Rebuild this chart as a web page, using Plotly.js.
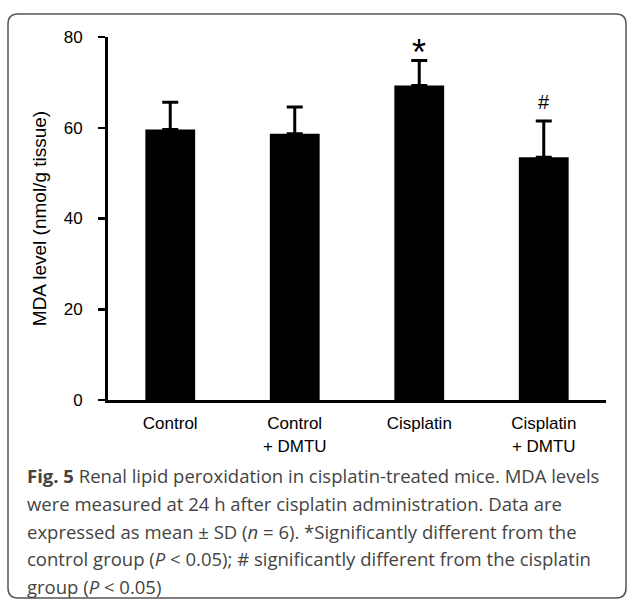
<!DOCTYPE html>
<html>
<head>
<meta charset="utf-8">
<script src="https://cdn.plot.ly/plotly-3.0.1.min.js"></script>
<style>
html, body { margin: 0; padding: 0; background: #ffffff; }
#chart { width: 629px; height: 601px; }
</style>
</head>
<body>
<div id="chart"></div>
<script>
// ---- data ----
const categories = ["Control", "Control<br>+ DMTU", "Cisplatin", "Cisplatin<br>+ DMTU"];
const mdaMean = [59.6, 58.7, 69.3, 53.5];
const mdaSD = [6.0, 5.9, 5.5, 8.0];
const sigMarks = ["", "", "*", "#"];
const yTicks = [0, 20, 40, 60, 80];
const captionLines = [
  "<b>Fig. 5</b> Renal lipid peroxidation in cisplatin-treated mice. MDA levels",
  "were measured at 24 h after cisplatin administration. Data are",
  "expressed as mean ± SD (<i>n</i> = 6). *Significantly different from the",
  "control group (<i>P</i> &lt; 0.05); # significantly different from the cisplatin",
  "group (<i>P</i> &lt; 0.05)"
];

// ---- layout geometry (pixels) ----
const W = 629, H = 601;
const mL = 108, mR = 23, mT = 37, mB = 201;
const pw = W - mL - mR, ph = H - mT - mB;
const px2x = p => (p - mL) / pw;
const py2y = p => (H - mB - p) / ph;

const trace = {
  type: "bar",
  x: categories,
  y: mdaMean,
  width: 0.4,
  marker: { color: "#000000", line: { width: 0 } },
  error_y: {
    type: "data",
    symmetric: false,
    array: mdaSD,
    arrayminus: mdaSD.map(() => 0),
    color: "#000000",
    thickness: 3,
    width: 8
  },
  hoverinfo: "skip"
};

const annotations = [];
categories.forEach((c, i) => {
  if (sigMarks[i]) {
    const star = sigMarks[i] === "*";
    annotations.push({
      x: c, y: mdaMean[i] + mdaSD[i], xref: "x", yref: "y",
      text: sigMarks[i], showarrow: false, yanchor: "middle",
      yshift: star ? 8 : 19,
      font: { family: "Liberation Sans, Arial, sans-serif", size: star ? 36 : 20, color: "#000" }
    });
  }
});
const captionY = [476, 503.5, 531, 558.5, 586];
captionLines.forEach((t, i) => {
  annotations.push({
    x: px2x(25), y: py2y(captionY[i]), xref: "paper", yref: "paper",
    xanchor: "left", yanchor: "middle", align: "left",
    text: t, showarrow: false,
    font: { family: "Open Sans, sans-serif", size: 18.5, color: "#444444" }
  });
});

// rounded frame
const fx0 = px2x(8), fx1 = px2x(626), fy0 = py2y(598), fy1 = py2y(14);
const rx = 10 / pw, ry = 10 / ph;
const framePath =
  `M ${fx0 + rx},${fy1} L ${fx1 - rx},${fy1} Q ${fx1},${fy1} ${fx1},${fy1 - ry} ` +
  `L ${fx1},${fy0 + ry} Q ${fx1},${fy0} ${fx1 - rx},${fy0} ` +
  `L ${fx0 + rx},${fy0} Q ${fx0},${fy0} ${fx0},${fy0 + ry} ` +
  `L ${fx0},${fy1 - ry} Q ${fx0},${fy1} ${fx0 + rx},${fy1} Z`;

const layout = {
  width: W, height: H,
  margin: { l: mL, r: mR, t: mT, b: mB, pad: 0 },
  paper_bgcolor: "#ffffff",
  plot_bgcolor: "#ffffff",
  showlegend: false,
  font: { family: "Liberation Sans, Arial, sans-serif", color: "#000" },
  xaxis: {
    type: "category",
    range: [-0.5, 3.5],
    showline: true, linecolor: "#000", linewidth: 3,
    ticks: "", showgrid: false, zeroline: false,
    tickfont: { size: 17, color: "#000" },
    ticklabelstandoff: 6,
    fixedrange: true
  },
  yaxis: {
    range: [0, 80],
    tickvals: yTicks,
    ticktext: yTicks.map(String),
    showline: true, linecolor: "#000", linewidth: 3,
    ticks: "outside", ticklen: 7, tickwidth: 2.5, tickcolor: "#000",
    showgrid: false, zeroline: false,
    tickfont: { size: 17, color: "#000" },
    ticklabelstandoff: 12,
    title: { text: "MDA level (nmol/g tissue)", font: { size: 19, color: "#000" }, standoff: 13 },
    automargin: false,
    fixedrange: true
  },
  annotations: annotations,
  shapes: [{
    type: "path", xref: "paper", yref: "paper", path: framePath,
    line: { color: "#555555", width: 1.5 }, fillcolor: "rgba(0,0,0,0)", layer: "below"
  }]
};

Plotly.newPlot("chart", [trace], layout, { displayModeBar: false, staticPlot: true });
</script>
</body>
</html>
